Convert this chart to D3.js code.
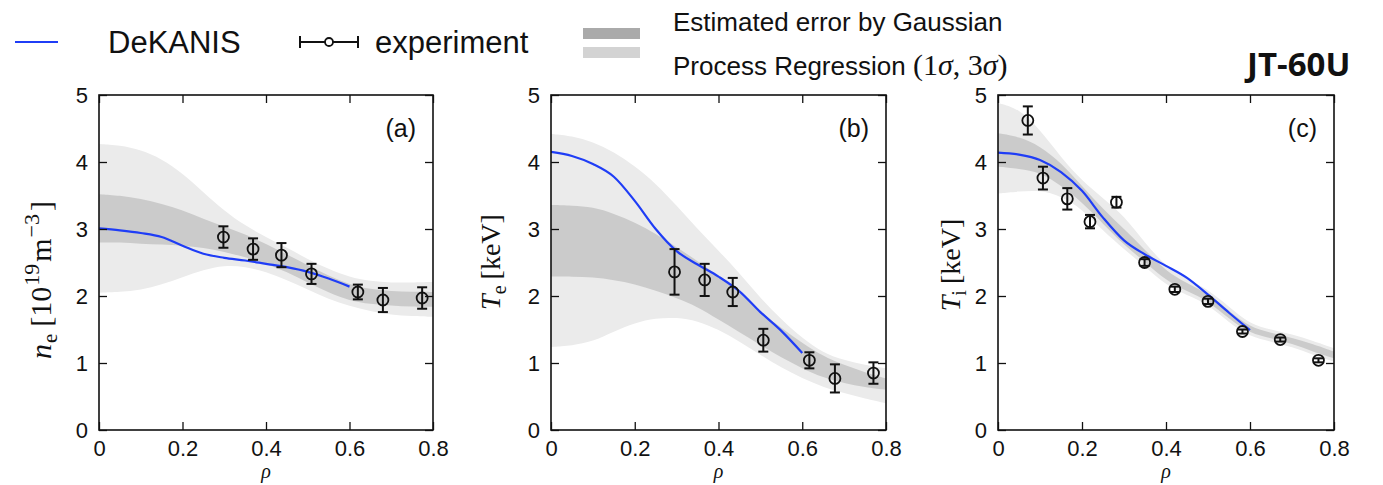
<!DOCTYPE html>
<html><head><meta charset="utf-8">
<script src="https://cdn.jsdelivr.net/npm/d3@7"></script>
<style>body{margin:0;background:#fff}svg{display:block}</style>
</head><body>
<svg id="chart" width="1383" height="485"></svg>
<script>
// ---------- data ----------
const rhoGrid = [0,0.05,0.1,0.15,0.2,0.25,0.3,0.35,0.4,0.45,0.5,0.55,0.6,0.65,0.7,0.75,0.8];
// (a) n_e GPR bands
const neHi3 = [4.27,4.25,4.18,4.05,3.83,3.55,3.27,3.05,2.88,2.72,2.55,2.40,2.28,2.22,2.20,2.20,2.21];
const neHi1 = [3.52,3.50,3.45,3.38,3.28,3.15,3.04,2.92,2.78,2.62,2.46,2.30,2.17,2.10,2.07,2.06,2.06];
const neLo1 = [2.80,2.80,2.78,2.77,2.75,2.72,2.66,2.58,2.48,2.36,2.20,2.05,1.93,1.88,1.86,1.84,1.84];
const neLo3 = [2.05,2.06,2.09,2.17,2.28,2.39,2.46,2.44,2.36,2.24,2.10,1.95,1.85,1.77,1.72,1.70,1.69];
// (b) T_e GPR bands
const teHi3 = [4.42,4.39,4.30,4.15,3.94,3.68,3.35,3.00,2.68,2.34,1.97,1.65,1.37,1.15,1.04,0.97,0.92];
const teHi1 = [3.36,3.35,3.33,3.23,3.10,2.93,2.73,2.52,2.30,2.05,1.77,1.52,1.30,1.10,0.97,0.86,0.77];
const teLo1 = [2.29,2.29,2.28,2.24,2.18,2.08,1.97,1.84,1.65,1.46,1.27,1.08,0.92,0.78,0.70,0.64,0.60];
const teLo3 = [1.24,1.26,1.32,1.47,1.60,1.67,1.68,1.63,1.50,1.32,1.12,0.93,0.77,0.64,0.55,0.47,0.40];
// (c) T_i GPR bands
const tiHi3 = [4.88,4.80,4.48,4.07,3.72,3.46,3.20,2.79,2.44,2.25,2.10,1.84,1.58,1.50,1.43,1.33,1.22];
const tiHi1 = [4.43,4.38,4.24,3.99,3.64,3.30,3.00,2.69,2.37,2.19,2.04,1.78,1.53,1.45,1.38,1.28,1.17];
const tiLo1 = [3.93,3.90,3.85,3.65,3.40,3.08,2.76,2.51,2.23,2.07,1.93,1.66,1.44,1.37,1.29,1.17,1.07];
const tiLo3 = [3.53,3.56,3.58,3.49,3.30,2.97,2.70,2.44,2.16,2.01,1.88,1.60,1.39,1.32,1.24,1.12,1.02];

// DeKANIS profiles
const lineRho = [0,0.05,0.1,0.15,0.2,0.25,0.3,0.35,0.4,0.45,0.5,0.55,0.6];
const neLine = [3.01,2.98,2.94,2.88,2.75,2.63,2.57,2.53,2.48,2.43,2.36,2.26,2.14];
const teLine = [4.15,4.09,3.97,3.78,3.42,3.00,2.67,2.47,2.29,2.07,1.76,1.48,1.15];
const tiLine = [4.14,4.11,4.03,3.85,3.57,3.17,2.83,2.62,2.45,2.27,2.02,1.75,1.49];

// experiment
const neExpRho = [0.298,0.369,0.437,0.509,0.620,0.680,0.774];
const neExpVal = [2.88,2.70,2.61,2.33,2.06,1.94,1.97];
const neExpErr = [0.16,0.16,0.18,0.15,0.11,0.18,0.16];
const teExpRho = [0.295,0.367,0.434,0.507,0.617,0.678,0.770];
const teExpVal = [2.36,2.24,2.06,1.34,1.04,0.77,0.85];
const teExpErr = [0.34,0.24,0.21,0.17,0.12,0.21,0.16];
const tiExpRho = [0.071,0.107,0.165,0.219,0.282,0.349,0.421,0.500,0.582,0.672,0.763];
const tiExpVal = [4.62,3.76,3.45,3.11,3.40,2.50,2.10,1.92,1.47,1.35,1.04];
const tiExpErr = [0.21,0.17,0.16,0.10,0.08,0.05,0.04,0.04,0.03,0.03,0.03];

const xTicks = [0,0.2,0.4,0.6,0.8];
const xTickLabels = ["0","0.2","0.4","0.6","0.8"];
const yTicks = [0,1,2,3,4,5];
const yTickLabels = ["0","1","2","3","4","5"];
const panelTags = ["(a)","(b)","(c)"];
const legendLabels = ["DeKANIS","experiment","Estimated error by Gaussian","Process Regression ","JT-60U"];

// ---------- layout ----------
const svg = d3.select("#chart");
svg.append("rect").attr("width",1383).attr("height",485).attr("fill","#fff");
const TOP = 95, BOTTOM = 430;
const panels = [
  {left:99, right:433, hi3:neHi3, hi1:neHi1, lo1:neLo1, lo3:neLo3, line:neLine,
   er:neExpRho, ev:neExpVal, ee:neExpErr, labX:40, labY:280, tag:panelTags[0]},
  {left:551, right:886, hi3:teHi3, hi1:teHi1, lo1:teLo1, lo3:teLo3, line:teLine,
   er:teExpRho, ev:teExpVal, ee:teExpErr, labX:490, labY:262, tag:panelTags[1]},
  {left:998, right:1334, hi3:tiHi3, hi1:tiHi1, lo1:tiLo1, lo3:tiLo3, line:tiLine,
   er:tiExpRho, ev:tiExpVal, ee:tiExpErr, labX:950, labY:265, tag:panelTags[2]}
];
const SANS = "'Liberation Sans', Arial, Helvetica, sans-serif";
const SERIF = "'Liberation Serif', 'Times New Roman', serif";
const LIGHT = "#ebebeb", DARK = "#cbcbcb", BLUE = "#1f3df6";

panels.forEach((p, i) => {
  const x = d3.scaleLinear().domain([0,0.8]).range([p.left, p.right]);
  const y = d3.scaleLinear().domain([0,5]).range([BOTTOM, TOP]);
  const g = svg.append("g");
  const clipId = "clip" + i;
  g.append("clipPath").attr("id", clipId).append("rect")
    .attr("x", p.left).attr("y", TOP).attr("width", p.right - p.left).attr("height", BOTTOM - TOP);
  const plot = g.append("g").attr("clip-path", `url(#${clipId})`);

  const band = (lo, hi) => d3.area()
    .x((d, k) => x(rhoGrid[k])).y0((d, k) => y(lo[k])).y1((d, k) => y(hi[k]))
    .curve(d3.curveBasis)(rhoGrid);
  plot.append("path").attr("d", band(p.lo3, p.hi3)).attr("fill", LIGHT);
  plot.append("path").attr("d", band(p.lo1, p.hi1)).attr("fill", DARK);

  plot.append("path")
    .attr("d", d3.line().x((d, k) => x(lineRho[k])).y(d => y(d)).curve(d3.curveMonotoneX)(p.line))
    .attr("fill", "none").attr("stroke", BLUE).attr("stroke-width", 2.2);

  // experiment points
  p.er.forEach((r, k) => {
    const cx = x(r), v = p.ev[k], e = p.ee[k];
    const y1 = y(v + e), y2 = y(v - e);
    plot.append("line").attr("x1", cx).attr("x2", cx).attr("y1", y1).attr("y2", y2)
      .attr("stroke", "#111").attr("stroke-width", 2);
    [y1, y2].forEach(yy => plot.append("line").attr("x1", cx - 5).attr("x2", cx + 5)
      .attr("y1", yy).attr("y2", yy).attr("stroke", "#111").attr("stroke-width", 2));
    plot.append("circle").attr("cx", cx).attr("cy", y(v)).attr("r", 5.5)
      .attr("fill", "none").attr("stroke", "#111").attr("stroke-width", 1.8);
  });

  // axes with inward ticks on all sides
  const styleAxis = sel => {
    sel.select(".domain").remove();
    sel.selectAll(".tick line").attr("stroke", "#111").attr("stroke-width", 1.3);
    sel.selectAll("text").attr("font-family", SANS).attr("font-size", 22).attr("fill", "#111");
  };
  g.append("g").attr("transform", `translate(${p.left},0)`)
    .call(d3.axisLeft(y).tickValues(yTicks).tickFormat((d, k) => yTickLabels[k]).tickSize(-8).tickPadding(11))
    .call(styleAxis);
  g.append("g").attr("transform", `translate(${p.right},0)`)
    .call(d3.axisRight(y).tickValues(yTicks).tickFormat("").tickSize(-8)).call(styleAxis);
  g.append("g").attr("transform", `translate(0,${BOTTOM})`)
    .call(d3.axisBottom(x).tickValues(xTicks).tickFormat((d, k) => xTickLabels[k]).tickSize(-8).tickPadding(10))
    .call(styleAxis);
  g.append("g").attr("transform", `translate(0,${TOP})`)
    .call(d3.axisTop(x).tickValues(xTicks).tickFormat("").tickSize(-8)).call(styleAxis);
  g.append("rect").attr("x", p.left).attr("y", TOP).attr("width", p.right - p.left).attr("height", BOTTOM - TOP)
    .attr("fill", "none").attr("stroke", "#111").attr("stroke-width", 1.6);

  // tag
  g.append("text").attr("x", p.right - 17).attr("y", 137).attr("text-anchor", "end")
    .attr("font-family", SANS).attr("font-size", 25).attr("fill", "#111").text(p.tag);

  // x label
  g.append("text").attr("x", (p.left + p.right) / 2).attr("y", 478).attr("text-anchor", "middle")
    .attr("font-family", SERIF).attr("font-style", "italic").attr("font-size", 20).attr("fill", "#111").text("ρ");

  // y label
  const t = g.append("text").attr("transform", `translate(${p.labX},${p.labY}) rotate(-90)`)
    .attr("text-anchor", "middle").attr("font-family", SERIF).attr("font-size", i === 0 ? 30 : 28).attr("fill", "#111")
    .attr("dy", "0.35em");
  if (i === 0) {
    t.append("tspan").attr("font-style", "italic").text("n");
    t.append("tspan").attr("font-size", 21).attr("dy", 6).attr("dx", 1).text("e");
    t.append("tspan").attr("dy", -6).attr("dx", 7).text("[10");
    t.append("tspan").attr("font-size", 22).attr("dy", -12).attr("dx", 1).text("19");
    t.append("tspan").attr("dy", 12).attr("dx", 2).text("m");
    t.append("tspan").attr("font-size", 22).attr("dy", -12).attr("dx", 1).text("−3");
    t.append("tspan").attr("dy", 12).attr("dx", 3).text("]");
  } else {
    t.append("tspan").attr("font-style", "italic").text("T");
    t.append("tspan").attr("font-size", 20).attr("dy", 6).text(i === 1 ? "e" : "i");
    t.append("tspan").attr("dy", -6).attr("dx", 6).text("[keV]");
  }
});

// ---------- legend ----------
const leg = svg.append("g");
leg.append("line").attr("x1", 15).attr("x2", 58).attr("y1", 42).attr("y2", 42)
  .attr("stroke", BLUE).attr("stroke-width", 2);
leg.append("text").attr("x", 108).attr("y", 53).attr("font-family", SANS).attr("font-size", 31)
  .attr("fill", "#111").text(legendLabels[0]);
// errorbar symbol
leg.append("line").attr("x1", 300).attr("x2", 358).attr("y1", 42).attr("y2", 42).attr("stroke", "#111").attr("stroke-width", 2);
[300, 358].forEach(xx => leg.append("line").attr("x1", xx).attr("x2", xx).attr("y1", 36).attr("y2", 48)
  .attr("stroke", "#111").attr("stroke-width", 2));
leg.append("circle").attr("cx", 329).attr("cy", 42).attr("r", 4).attr("fill", "#fff").attr("stroke", "#111").attr("stroke-width", 1.8);
leg.append("text").attr("x", 375).attr("y", 53).attr("font-family", SANS).attr("font-size", 31)
  .attr("fill", "#111").text(legendLabels[1]);
// band boxes
leg.append("rect").attr("x", 583).attr("y", 28).attr("width", 57).attr("height", 11).attr("fill", "#aaaaaa");
leg.append("rect").attr("x", 583).attr("y", 47).attr("width", 57).attr("height", 11).attr("fill", "#d3d3d3");
leg.append("text").attr("x", 673).attr("y", 31).attr("font-family", SANS).attr("font-size", 26)
  .attr("fill", "#111").text(legendLabels[2]);
const l2 = leg.append("text").attr("x", 673).attr("y", 75).attr("font-family", SANS).attr("font-size", 26).attr("fill", "#111");
l2.append("tspan").text(legendLabels[3]);
const m = l2.append("tspan").attr("font-family", SERIF).attr("font-size", 30);
m.append("tspan").text("(1");
m.append("tspan").attr("font-style", "italic").text("σ");
m.append("tspan").text(", 3");
m.append("tspan").attr("font-style", "italic").text("σ");
m.append("tspan").text(")");
leg.append("text").attr("x", 1247).attr("y", 76).attr("font-family", "'Open Sans', " + SANS).attr("font-weight", "bold")
  .attr("font-size", 33).attr("fill", "#111").text(legendLabels[4]);
</script>
</body></html>
